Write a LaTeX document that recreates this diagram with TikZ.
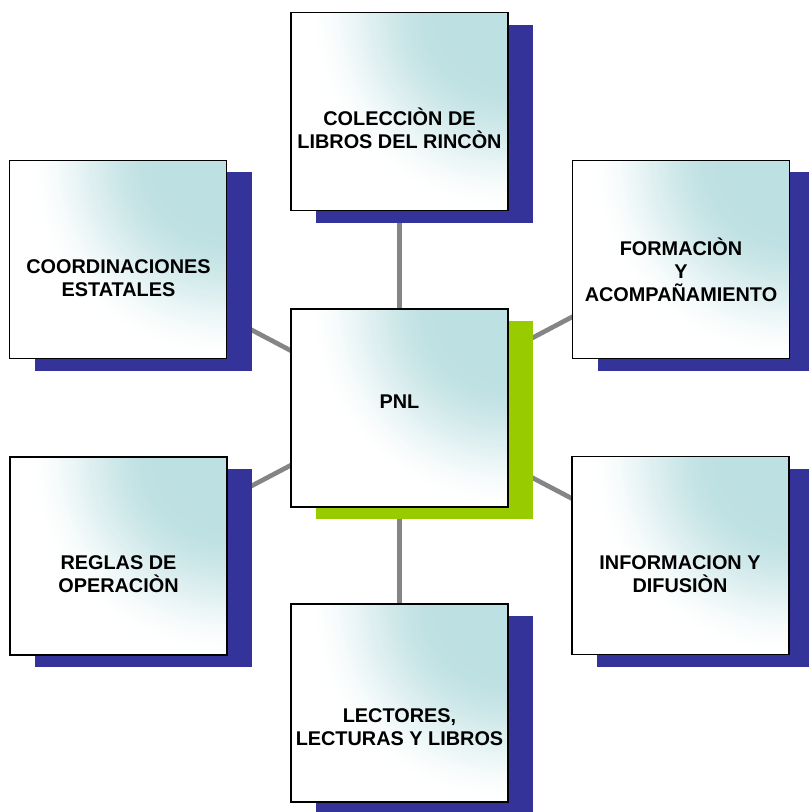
\documentclass[tikz,border=0pt]{standalone}
\usepackage{fontspec}
\setmainfont{Liberation Sans}
\usetikzlibrary{shadows,backgrounds}
\definecolor{boxcyan}{RGB}{189,224,226}
\definecolor{shadowblue}{RGB}{51,51,153}
\definecolor{shadowgreen}{RGB}{153,204,0}
\definecolor{linkgray}{RGB}{133,133,133}
\tikzset{
    card/.style={draw=black,line width=1pt,fill=white,inner sep=0pt,outer sep=0pt,
        minimum width=162.75pt,minimum height=148.5pt,
        path picture={
            \foreach \i in {0,...,50}{
                \pgfmathsetmacro{\t}{\i/50}
                \pgfmathtruncatemacro{\pct}{100*\t*\t*(3-2*\t)}
                \fill[boxcyan!\pct!white]
                    (path picture bounding box.north east) circle[radius={205-135*\t}];
            }
        }},
    blueshadow/.style={drop shadow={shadow xshift=18.75pt,shadow yshift=-9pt,fill=shadowblue,opacity=1}},
    greenshadow/.style={drop shadow={shadow xshift=18.75pt,shadow yshift=-9pt,fill=shadowgreen,opacity=1}},
    cardtext/.style={font=\bfseries\fontsize{14.9}{17.25}\selectfont,align=center,inner sep=0pt},
    link/.style={draw=linkgray,line width=3.5pt}
}
\begin{document}
\begin{tikzpicture}[x=0.75pt,y=-0.75pt]
            \useasboundingbox (0,0) rectangle (808,812);
            \node[card,blueshadow]  (colec)  at (399.5,111.7) {};
            \node[card,blueshadow]  (coord)  at (118.2,259.5) {};
            \node[card,blueshadow]  (forma)  at (681,259.5) {};
            \node[card,greenshadow] (pnl)    at (399.5,408) {};
            \node[card,blueshadow]  (reglas) at (118.5,556) {};
            \node[card,blueshadow]  (info)   at (680.5,555.5) {};
            \node[card,blueshadow]  (lect)   at (399.5,703) {};
            \begin{scope}[on background layer]
                \foreach \n in {colec,coord,forma,reglas,info,lect}
                    \draw[link] (pnl.center)--(\n.center);
            \end{scope}
            \path   (399.5,128) node[cardtext] (colec-t) {COLECCIÒN DE\\LIBROS DEL RINCÒN}
                    (118.5,278) node[cardtext] (coord-t) {COORDINACIONES\\ESTATALES}
                    (681,269.5) node[cardtext] (forma-t) {FORMACIÒN\\Y\\ACOMPAÑAMIENTO}
                    (399.5,401.5) node[cardtext] (pnl-t) {PNL}
                    (118.5,574) node[cardtext] (reglas-t) {REGLAS DE\\OPERACIÒN}
                    (680,574) node[cardtext] (info-t) {INFORMACION Y\\DIFUSIÒN}
                    (399.5,727.5) node[cardtext] (lect-t) {LECTORES,\\LECTURAS Y LIBROS};
        \end{tikzpicture}
\end{document}
